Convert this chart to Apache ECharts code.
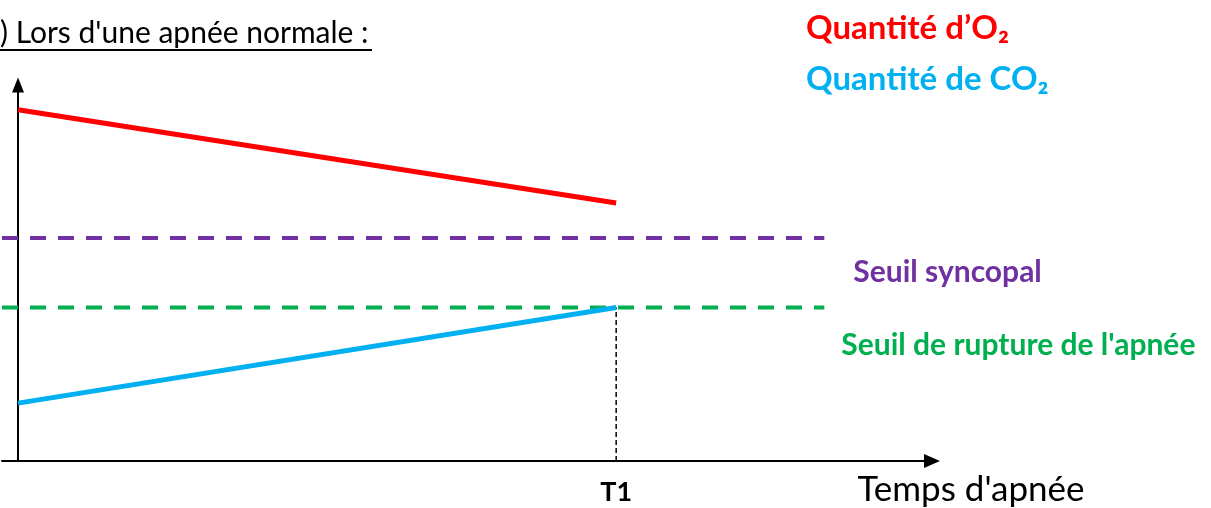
<!DOCTYPE html>
<html>
<head>
  <meta charset="utf-8"/>
  <title>Lors d'une apnée normale</title>
  <script src="https://cdn.jsdelivr.net/npm/echarts@6/dist/echarts.min.js"></script>
  <style>
    html, body { margin: 0; padding: 0; background: #fff; }
    #chart { width: 1211px; height: 508px; }
  </style>
</head>
<body>
<div id="chart"></div>
<script>
// temps d'apnée (T1 = 100)
var timePoints = [0, 100];
var o2Values = [93.4, 68.6];
var co2Values = [15.4, 40.8];
// seuils horizontaux
var seuilSyncopal = 59.3;
var seuilRupture = 40.8;
var seuilStartEnd = [-2.68, 134.8];
var xRange = [-2.68, 152.8];
var yRange = [0, 100];

var FONT = 'Lato, "Open Sans", sans-serif';

function pairs(xs, ys) {
  return xs.map(function (x, i) { return [x, ys[i]]; });
}

var chart = echarts.init(document.getElementById('chart'));

var option = {
  animation: false,
  backgroundColor: '#fff',
  textStyle: { fontFamily: FONT },
  grid: { left: 2, right: 279, top: 85, bottom: 47 },
  legend: {
    orient: 'vertical',
    left: 796,
    top: 7,
    icon: 'none',
    itemWidth: 0,
    itemGap: 18,
    selectedMode: false,
    textStyle: { fontFamily: FONT, fontWeight: 'bold', fontSize: 33 },
    data: [
      { name: 'Quantité d’O₂', textStyle: { color: '#FF0000' } },
      { name: 'Quantité de CO₂', textStyle: { color: '#00B0F0' } }
    ]
  },
  xAxis: {
    type: 'value',
    min: xRange[0],
    max: xRange[1],
    splitLine: { show: false },
    axisTick: { show: false },
    axisLine: {
      lineStyle: { color: '#000', width: 2 },
      symbol: ['none', 'triangle'],
      symbolSize: [14, 16]
    },
    axisLabel: {
      customValues: [timePoints[1]],
      formatter: function () { return 'T1'; },
      margin: 18,
      color: '#000',
      fontWeight: 'bold',
      fontSize: 27,
      fontFamily: FONT
    },
    name: 'Temps d\'apnée',
    nameLocation: 'end',
    nameGap: 39,
    nameTextStyle: {
      color: '#000',
      fontSize: 35,
      fontFamily: FONT,
      align: 'center',
      verticalAlign: 'top',
      padding: [11, 0, 0, 0]
    }
  },
  yAxis: {
    type: 'value',
    min: yRange[0],
    max: yRange[1],
    splitLine: { show: false },
    axisTick: { show: false },
    axisLabel: { show: false },
    axisLine: {
      show: true,
      onZero: true,
      lineStyle: { color: '#000', width: 2 },
      symbol: ['none', 'triangle'],
      symbolSize: [12, 15]
    }
  },
  graphic: [
    {
      type: 'text',
      x: 0,
      y: 33,
      style: {
        text: ') Lors d\'une apnée normale :',
        fontSize: 30,
        fontFamily: FONT,
        fill: '#000',
        verticalAlign: 'middle'
      }
    },
    {
      type: 'line',
      shape: { x1: 0, y1: 50, x2: 372, y2: 50 },
      style: { stroke: '#000', lineWidth: 2 }
    }
  ],
  series: [
    {
      name: 'Seuil syncopal',
      type: 'line',
      data: pairs(seuilStartEnd, [seuilSyncopal, seuilSyncopal]),
      symbol: 'none',
      lineStyle: { color: '#7030A0', width: 4, type: [16, 12] },
      endLabel: {
        show: true,
        formatter: '{a}',
        color: '#7030A0',
        fontWeight: 'bold',
        fontSize: 30,
        fontFamily: FONT,
        offset: [21, 34]
      },
      z: 2
    },
    {
      name: 'Seuil de rupture de l\'apnée',
      type: 'line',
      data: pairs(seuilStartEnd, [seuilRupture, seuilRupture]),
      symbol: 'none',
      lineStyle: { color: '#00B050', width: 4, type: [16, 12] },
      endLabel: {
        show: true,
        formatter: '{a}',
        color: '#00B050',
        fontWeight: 'bold',
        fontSize: 30,
        fontFamily: FONT,
        offset: [9, 38]
      },
      z: 2
    },
    {
      name: 'T1',
      type: 'line',
      data: [[timePoints[1], 0], [timePoints[1], seuilRupture]],
      symbol: 'none',
      lineStyle: { color: '#000', width: 1.5, type: [5, 3] },
      z: 1
    },
    {
      name: 'Quantité d’O₂',
      type: 'line',
      data: pairs(timePoints, o2Values),
      symbol: 'none',
      lineStyle: { color: '#FF0000', width: 5 },
      itemStyle: { color: '#FF0000' },
      z: 3
    },
    {
      name: 'Quantité de CO₂',
      type: 'line',
      data: pairs(timePoints, co2Values),
      symbol: 'none',
      lineStyle: { color: '#00B0F0', width: 5 },
      itemStyle: { color: '#00B0F0' },
      z: 3
    }
  ]
};

chart.setOption(option);
</script>
</body>
</html>
